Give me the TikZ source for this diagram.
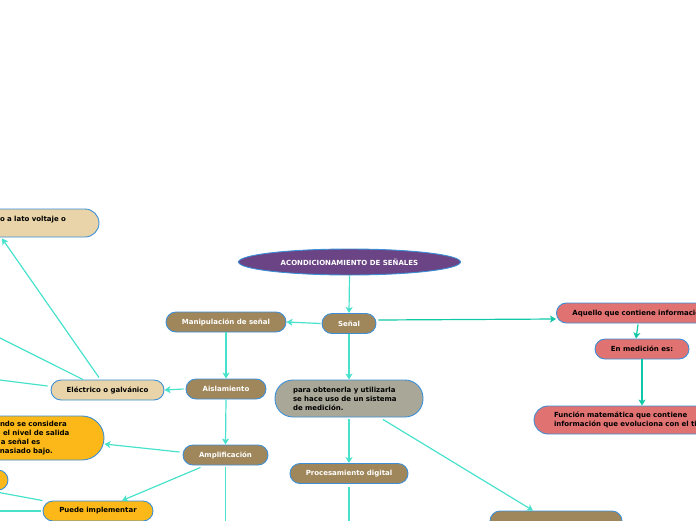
\documentclass[tikz,border=0pt]{standalone}
\usepackage{fontspec}
\setmainfont{DejaVu Sans}
\usetikzlibrary{shapes.geometric,arrows.meta,calc}
\definecolor{brownc}{HTML}{A0875B}
\definecolor{beigec}{HTML}{E8D4A8}
\definecolor{yellowc}{HTML}{FBB818}
\definecolor{redc}{HTML}{E07272}
\definecolor{greyc}{HTML}{A9A898}
\definecolor{purplec}{HTML}{6A4484}
\definecolor{bordc}{HTML}{3C8FD6}
\definecolor{linec}{HTML}{48E2CC}
\definecolor{linedk}{HTML}{10C8A8}
\tikzset{
  box/.style={draw=bordc, line width=0.9pt, rounded corners=10pt, minimum height=20pt,
    inner xsep=6pt, inner ysep=2pt, font=\bfseries\fontsize{7}{9}\selectfont, align=center},
  brownbox/.style={box, fill=brownc, text=white},
  beigebox/.style={box, fill=beigec, text=black},
  yellowbox/.style={box, fill=yellowc, text=black},
  redbox/.style={box, fill=redc, text=black},
  greybox/.style={box, fill=greyc, text=black},
  conn/.style={draw=linec, line width=1.2pt, -{Stealth[length=6pt,width=7pt,inset=1.5pt]}},
  plain/.style={draw=linec, line width=1.2pt},
  conndk/.style={conn, draw=linedk},
}
\begin{document}
\begin{tikzpicture}[x=1pt,y=-1pt]
\useasboundingbox (0,0) rectangle (696,520);
\clip (0,0) rectangle (696,520);

% nodes
\node[ellipse, draw=bordc, line width=0.9pt, fill=purplec, text=white, minimum width=222pt,
  minimum height=26pt, inner sep=0pt, font=\bfseries\fontsize{7}{9}\selectfont] (title) at (349.5,262) {ACONDICIONAMIENTO DE SEÑALES};
\node[brownbox, minimum width=54pt] (senal) at (349,323.5) {Señal};
\node[brownbox, minimum width=120pt] (manip) at (226,322) {Manipulación de señal};
\node[brownbox, minimum width=80pt] (aisl) at (226,389) {Aislamiento};
\node[beigebox, minimum width=113pt] (elec) at (107.5,390) {Eléctrico o galvánico};
\node[brownbox, minimum width=85pt] (ampl) at (225.5,455) {Amplificación};
\node[beigebox, minimum height=28pt, rounded corners=14pt, text width=125pt, inner xsep=7pt,
  align=left] (tl) at (29.5,223) {\hspace*{33pt}o a lato voltaje o\\\mbox{}};
\node[yellowbox, minimum height=44pt, rounded corners=22pt, text width=130pt, inner xsep=7pt,
  align=left] (yel) at (32,438) {\hspace*{33pt}ndo se considera\\\hspace*{36pt}el nivel de salida\\\hspace*{34pt}a señal es\\\hspace*{33pt}nasiado bajo.};
\node[yellowbox, minimum width=40pt] (small) at (-12,480) {};
\node[yellowbox, minimum width=110pt] (puede) at (98,511) {Puede implementar};
\node[greybox, minimum height=37pt, rounded corners=18pt, text width=112pt, inner xsep=18pt,
  align=left] (para) at (349,398.5) {para obtenerla y utilizarla\\se hace uso de un sistema\\de medición.};
\node[brownbox, minimum width=118pt] (proc) at (349,473.5) {Procesamiento digital};
\node[brownbox, minimum width=132pt] (bottom) at (556,521) {};
\node[redbox, anchor=west, text width=164pt, inner xsep=16pt, align=left] (aquello) at (556,313) {Aquello que contiene información};
\node[redbox, minimum width=94pt] (enmed) at (642,349) {En medición es:};
\node[redbox, minimum height=28pt, rounded corners=14pt, text width=176pt, inner xsep=20pt,
  align=left] (funcion) at (642,420) {Función matemática que contiene\\información que evoluciona con el tiempo};

% free ends
\coordinate (offA) at (-40,318);
\coordinate (offB) at (-40,375);
\coordinate (offC) at (-40,511);
\coordinate (ampldown) at (225.5,540);
\coordinate (procdown) at (349,540);

% connectors
\draw[conn] (title.south) -- (senal.north);
\draw[conn] ($(senal.west)+(-1,0)$) -- (manip.east);
\draw[conndk] ($(senal.east)+(2,-3.5)$) -- ($(aquello.west)+(0,6)$);
\draw[conn] (senal.south) -- (para.north);
\draw[conn] (manip.south) -- (aisl.north);
\draw[conn] ($(aisl.west)+(-2,0)$) -- (elec.east);
\draw[conn] (aisl.south) -- (ampl.north);
\draw[conn] ($(elec.north)+(-8.5,-2)$) -- ($(tl.south)+(-27.5,1)$);
\draw[plain] ($(elec.north)+(-24.5,0)$) -- (offA);
\draw[plain] ($(elec.west)+(-3,-4)$) -- (offB);
\draw[conn] ($(ampl.west)+(-3,-3)$) -- ($(yel.east)+(0,6)$);
\draw[conn] ($(ampl.south)+(-25,2)$) -- ($(puede.north)+(24,0)$);
\draw[plain] ($(ampl.south)+(0,2)$) -- (ampldown);
\draw[plain] ($(puede.west)+(-2,0)$) -- (offC);
\draw[plain] (small.south) -- (puede.north west);
\draw[conn] ($(para.south)+(0,2)$) -- (proc.north);
\draw[conn] ($(para.south)+(34,2)$) -- ($(bottom.north)+(-23,0)$);
\draw[plain] ($(proc.south)+(0,3)$) -- (procdown);
\draw[conndk] ($(aquello.south west)+(82,1)$) -- ($(enmed.north)+(-6,0)$);
\draw[conndk] (enmed.south) -- (enmed.south |- funcion.north);
\end{tikzpicture}
\end{document}
